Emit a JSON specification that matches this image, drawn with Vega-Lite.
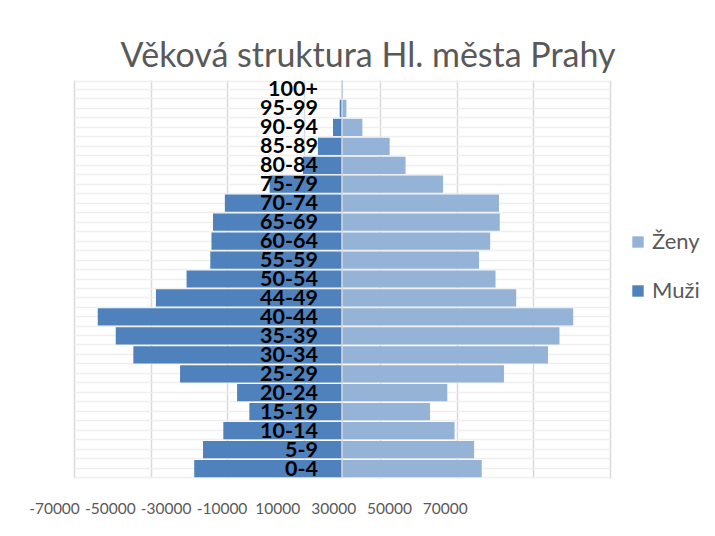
{
  "$schema": "https://vega.github.io/schema/vega-lite/v6.json",
  "width": 536,
  "height": 398,
  "autosize": {"type": "none"},
  "padding": {"left": 74, "top": 80, "right": 105, "bottom": 58},
  "background": "white",
  "config": {"view": {"stroke": null}, "font": "Lato"},
  "title": {"text": "Věková struktura Hl. města Prahy", "fontSize": 34, "font": "Lato", "fontWeight": "normal", "color": "#595959", "anchor": "middle", "dx": 26, "offset": 5},
  "datasets": {
    "pop": [
      {"age": "100+", "sex": "Muži", "value": -60}, {"age": "100+", "sex": "Ženy", "value": 280},
      {"age": "95-99", "sex": "Muži", "value": -600}, {"age": "95-99", "sex": "Ženy", "value": 1150},
      {"age": "90-94", "sex": "Muži", "value": -2350}, {"age": "90-94", "sex": "Ženy", "value": 5320},
      {"age": "85-89", "sex": "Muži", "value": -6300}, {"age": "85-89", "sex": "Ženy", "value": 12450},
      {"age": "80-84", "sex": "Muži", "value": -10200}, {"age": "80-84", "sex": "Ženy", "value": 16600},
      {"age": "75-79", "sex": "Muži", "value": -18900}, {"age": "75-79", "sex": "Ženy", "value": 26400},
      {"age": "70-74", "sex": "Muži", "value": -30600}, {"age": "70-74", "sex": "Ženy", "value": 41000},
      {"age": "65-69", "sex": "Muži", "value": -33700}, {"age": "65-69", "sex": "Ženy", "value": 41200},
      {"age": "60-64", "sex": "Muži", "value": -34100}, {"age": "60-64", "sex": "Ženy", "value": 38700},
      {"age": "55-59", "sex": "Muži", "value": -34400}, {"age": "55-59", "sex": "Ženy", "value": 35800},
      {"age": "50-54", "sex": "Muži", "value": -40600}, {"age": "50-54", "sex": "Ženy", "value": 40100},
      {"age": "44-49", "sex": "Muži", "value": -48600}, {"age": "44-49", "sex": "Ženy", "value": 45500},
      {"age": "40-44", "sex": "Muži", "value": -63800}, {"age": "40-44", "sex": "Ženy", "value": 60400},
      {"age": "35-39", "sex": "Muži", "value": -59100}, {"age": "35-39", "sex": "Ženy", "value": 56800},
      {"age": "30-34", "sex": "Muži", "value": -54500}, {"age": "30-34", "sex": "Ženy", "value": 53800},
      {"age": "25-29", "sex": "Muži", "value": -42300}, {"age": "25-29", "sex": "Ženy", "value": 42300},
      {"age": "20-24", "sex": "Muži", "value": -27400}, {"age": "20-24", "sex": "Ženy", "value": 27500},
      {"age": "15-19", "sex": "Muži", "value": -24200}, {"age": "15-19", "sex": "Ženy", "value": 23000},
      {"age": "10-14", "sex": "Muži", "value": -31000}, {"age": "10-14", "sex": "Ženy", "value": 29400},
      {"age": "5-9", "sex": "Muži", "value": -36300}, {"age": "5-9", "sex": "Ženy", "value": 34500},
      {"age": "0-4", "sex": "Muži", "value": -38600}, {"age": "0-4", "sex": "Ženy", "value": 36500}
    ]
  },
  "data": {"name": "pop"},
  "layer": [
    {
      "mark": {"type": "bar"},
      "encoding": {
        "y": {
          "field": "age", "type": "nominal",
          "sort": ["100+", "95-99", "90-94", "85-89", "80-84", "75-79", "70-74", "65-69", "60-64", "55-59", "50-54", "44-49", "40-44", "35-39", "30-34", "25-29", "20-24", "15-19", "10-14", "5-9", "0-4"],
          "scale": {"paddingInner": 0.09, "paddingOuter": 0.045},
          "axis": {"grid": true, "tickBand": "extent", "labels": false, "ticks": false, "domain": false, "title": null, "gridColor": "#EFEFEF", "gridWidth": 1.5}
        },
        "x": {
          "field": "value", "type": "quantitative", "stack": null,
          "scale": {"domain": [-70000, 70000], "nice": false},
          "axis": {
            "values": [-70000, -50000, -30000, -10000, 10000, 30000, 50000, 70000],
            "labelExpr": "toString(datum.value)", "labelOverlap": false, "labelFlush": false,
            "grid": true, "gridColor": "#D9D9D9", "gridWidth": 1.5, "domain": false, "ticks": false, "title": null,
            "labelFontSize": 15.5, "labelColor": "#595959", "labelPadding": 23, "labelFont": "Lato",
            "labelOffset": {
              "condition": [
                {"test": "datum.value < -60000", "value": -20},
                {"test": "datum.value < -40000", "value": -40.7},
                {"test": "datum.value < -20000", "value": -61.5},
                {"test": "datum.value < 0", "value": -82.2},
                {"test": "datum.value < 20000", "value": -103},
                {"test": "datum.value < 40000", "value": -123.7},
                {"test": "datum.value < 60000", "value": -144.4}
              ],
              "value": -165.2
            }
          }
        },
        "color": {
          "field": "sex", "type": "nominal",
          "scale": {"domain": ["Ženy", "Muži"], "range": ["#95B3D7", "#4F81BD"]},
          "legend": {"orient": "none", "legendX": 553, "legendY": 151, "title": null, "symbolType": "square", "symbolSize": 130, "symbolStrokeWidth": 0, "labelFontSize": 22, "labelColor": "#595959", "labelFont": "Lato", "rowPadding": 27, "padding": 0, "labelOffset": 3}
        }
      }
    },
    {
      "data": {"values": [{}]},
      "mark": {"type": "rule", "color": "#D9D9D9", "strokeWidth": 1.5},
      "encoding": {"x": {"datum": 0}}
    },
    {
      "transform": [{"filter": "datum.sex === 'Muži'"}],
      "mark": {"type": "text", "align": "right", "baseline": "middle", "dx": -24, "dy": 1, "fontSize": 21.5, "fontWeight": "bold", "font": "Lato", "color": "black"},
      "encoding": {
        "y": {
          "field": "age", "type": "nominal",
          "sort": ["100+", "95-99", "90-94", "85-89", "80-84", "75-79", "70-74", "65-69", "60-64", "55-59", "50-54", "44-49", "40-44", "35-39", "30-34", "25-29", "20-24", "15-19", "10-14", "5-9", "0-4"],
          "axis": {"grid": true, "orient": "right", "labels": false, "ticks": false, "domain": false, "title": null, "gridColor": "#EFEFEF", "gridWidth": 1.5}
        },
        "x": {"datum": 0},
        "text": {"field": "age"}
      }
    }
  ],
  "resolve": {"axis": {"y": "independent"}}
}
